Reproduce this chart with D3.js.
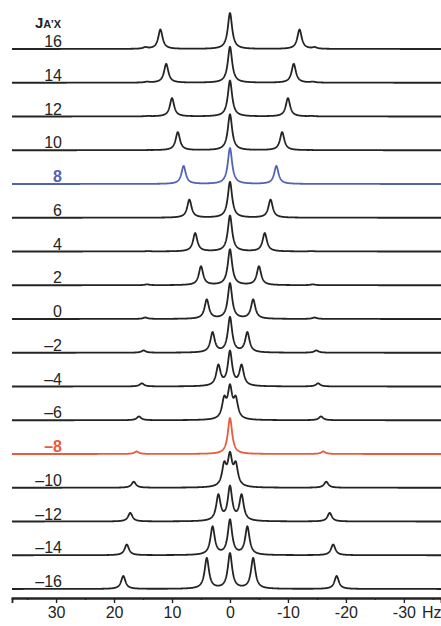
<!DOCTYPE html>
<html>
<head>
<meta charset="utf-8">
<script src="https://cdn.jsdelivr.net/npm/d3@7"></script>
<style>
  html, body { margin: 0; padding: 0; background: #fff; }
  svg { display: block; }
  text { font-family: "Liberation Sans", Arial, Helvetica, sans-serif; }
</style>
</head>
<body>
<svg id="chart" width="441" height="626"></svg>
<script>
// ---- data ----
const jValues   = [16, 14, 12, 10, 8, 6, 4, 2, 0, -2, -4, -6, -8, -10, -12, -14, -16];
// main doublet lines at +/- splitHz (unit intensity each)
const splitHz   = [12, 11, 10, 9, 8, 7, 6, 5, 4, 3, 2, 1, 0, 1, 2, 3, 4];
// intensity of the central line at 0 Hz
const centralInt = [1.85, 1.91, 1.96, 1.99, 2.0, 1.99, 1.96, 1.91, 1.85, 1.77, 1.69, 1.60, 1.51, 1.42, 1.32, 1.24, 1.15];
// weak outer combination lines at +/- outerHz
const outerHz   = [14.6, 14.3, 14.1, 14.0, 14.0, 14.0, 14.1, 14.3, 14.6, 14.9, 15.2, 15.7, 16.1, 16.6, 17.2, 17.8, 18.4];
const outerInt  = [0.075, 0.044, 0.02, 0.005, 0, 0.005, 0.02, 0.044, 0.075, 0.113, 0.155, 0.20, 0.246, 0.292, 0.338, 0.382, 0.424];
const lineHalfWidthHz = 0.45;
const majorTicks = [30, 20, 10, 0, -10, -20, -30];
const majorTickLabels = ["30", "20", "10", "0", "-10", "-20", "-30"];
const minorTicks = [35, 25, 15, 5, -5, -15, -25, -35];
const unitLabel = "Hz";
const highlight = { "8": "#5363b4", "-8": "#e75c3b" };

// ---- layout ----
const svg = d3.select("#chart");
const x = d3.scaleLinear().domain([37.6, -36.4]).range([12, 441]);
const firstBase = 49, step = 33.75, peakPx = 36, axisY = 598;
const baseY = d3.scaleLinear().domain([0, jValues.length - 1]).range([firstBase, firstBase + step * (jValues.length - 1)]);

function lines(i) {
  const L = [{ p: 0, a: centralInt[i] }, { p: splitHz[i], a: 1 }, { p: -splitHz[i], a: 1 }];
  if (outerInt[i] > 0) { L.push({ p: outerHz[i], a: outerInt[i] }, { p: -outerHz[i], a: outerInt[i] }); }
  return L;
}
function spectrum(i) {
  const L = lines(i), g = lineHalfWidthHz;
  const pts = [];
  for (let h = 37.6; h >= -36.4; h -= 0.04) {
    let s = 0;
    for (const l of L) { const d = (h - l.p) / g; s += l.a / (1 + d * d); }
    pts.push([h, s]);
  }
  return pts;
}

const traces = svg.append("g");
jValues.forEach((j, i) => {
  const pts = spectrum(i);
  const maxI = d3.max(pts, d => d[1]);
  const b = baseY(i);
  const y = d3.scaleLinear().domain([0, maxI]).range([b, b - peakPx]);
  const col = highlight[String(j)] || "#242424";
  traces.append("path")
    .attr("d", d3.line().x(d => x(d[0])).y(d => y(d[1]))(pts))
    .attr("fill", "none")
    .attr("stroke", col)
    .attr("stroke-width", 1.8)
    .attr("stroke-linejoin", "round");
  traces.append("text")
    .attr("x", 62).attr("y", b - 2)
    .attr("text-anchor", "end")
    .attr("font-size", 16)
    .attr("font-weight", highlight[String(j)] ? "bold" : "normal")
    .attr("fill", highlight[String(j)] ? col : "#242424")
    .text(j < 0 ? "\u2013" + Math.abs(j) : String(j));
});

// title J_A'X
const title = svg.append("text").attr("x", 35).attr("y", 28).attr("font-weight", "bold").attr("fill", "#242424");
title.append("tspan").attr("font-size", 15).text("J");
title.append("tspan").attr("font-size", 11).text("A\u2019X");

// axis
const major = d3.axisBottom(x).tickValues(majorTicks).tickSize(5).tickPadding(4)
  .tickFormat((d, k) => majorTickLabels[k]);
const minor = d3.axisBottom(x).tickValues(minorTicks).tickSize(2).tickFormat("");
const gMinor = svg.append("g").attr("transform", `translate(0,${axisY})`).call(minor);
const gMajor = svg.append("g").attr("transform", `translate(0,${axisY})`).call(major);
[gMinor, gMajor].forEach(g => {
  g.select(".domain").attr("stroke", "#242424").attr("stroke-width", 1.8);
  g.selectAll(".tick line").attr("stroke", "#242424").attr("stroke-width", 1.4);
});
gMajor.selectAll(".tick text").attr("font-size", 16).attr("fill", "#242424")
  .attr("font-family", "'Liberation Sans', Arial, sans-serif");
gMajor.append("text").attr("x", 422).attr("y", 9 + 16 * 0.71)
  .attr("font-size", 16).attr("fill", "#242424").attr("text-anchor", "start")
  .attr("font-family", "'Liberation Sans', Arial, sans-serif")
  .text(unitLabel);
</script>
</body>
</html>
